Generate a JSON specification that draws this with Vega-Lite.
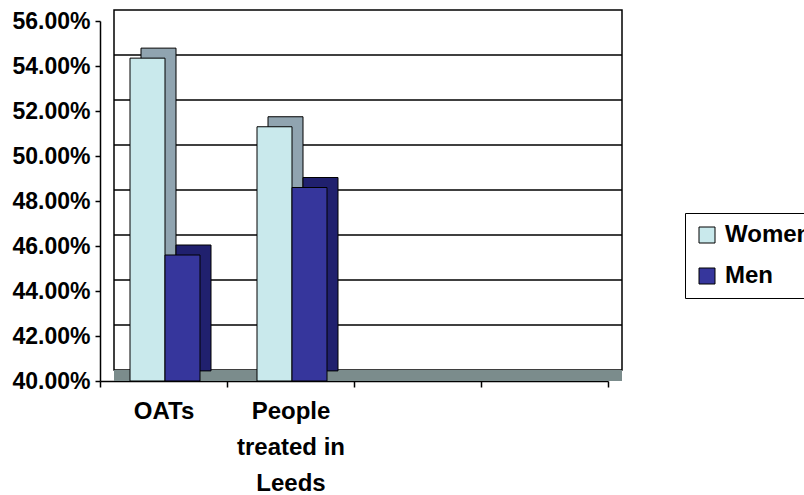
{
  "$schema": "https://vega.github.io/schema/vega-lite/v6.json",
  "width": 508,
  "height": 360,
  "autosize": {"type": "none"},
  "padding": {"left": 114, "top": 10, "right": 182, "bottom": 125},
  "background": "white",
  "config": {"view": {"stroke": "black", "strokeWidth": 1.5}, "font": "Liberation Sans"},
  "datasets": {
    "bars": [
      {"group": "OATs", "sex": "Women", "value": 0.5435},
      {"group": "OATs", "sex": "Men", "value": 0.456},
      {"group": "People treated in Leeds", "sex": "Women", "value": 0.513},
      {"group": "People treated in Leeds", "sex": "Men", "value": 0.486}
    ],
    "grid": [{"v": 0.42}, {"v": 0.44}, {"v": 0.46}, {"v": 0.48}, {"v": 0.50}, {"v": 0.52}, {"v": 0.54}]
  },
  "resolve": {"scale": {"xOffset": "independent"}},
  "layer": [
    {
      "data": {"name": "grid"},
      "mark": {"type": "rule", "color": "black", "strokeWidth": 1.5},
      "encoding": {
        "y": {"field": "v", "type": "quantitative", "title": null, "scale": {"domain": [0.4, 0.56], "zero": false, "nice": false}}
      }
    },
    {
      "data": {"name": "grid"},
      "mark": {"type": "rule", "color": "#7b8c8c", "strokeWidth": 11, "yOffset": 5.5},
      "encoding": {
        "y": {"datum": 0.4, "type": "quantitative"}
      }
    },
    {
      "data": {"name": "bars"},
      "mark": {"type": "bar", "stroke": "black", "strokeWidth": 1, "yOffset": 1},
      "encoding": {
        "x": {"field": "group", "type": "nominal", "title": null, "scale": {"domain": ["OATs", "People treated in Leeds", "c3", "c4"], "paddingInner": 0, "paddingOuter": 0}},
        "xOffset": {"field": "sex", "type": "nominal", "scale": {"domain": ["Women", "Men"], "range": [27, 97], "paddingInner": 0, "paddingOuter": 0}},
        "y": {"field": "value", "type": "quantitative", "title": null},
        "y2": {"datum": 0.3996},
        "color": {"condition": {"test": "datum.sex === 'Women'", "value": "#90a4b0"}, "value": "#20206e"}
      }
    },
    {
      "data": {"name": "bars"},
      "mark": {"type": "bar", "stroke": "black", "strokeWidth": 1, "yOffset": 11},
      "encoding": {
        "x": {
          "field": "group", "type": "nominal", "title": null,
          "scale": {"domain": ["OATs", "People treated in Leeds", "c3", "c4"], "paddingInner": 0, "paddingOuter": 0},
          "axis": {
            "tickBand": "extent", "offset": 25, "translate": -13.5,
            "tickSize": 6, "tickColor": "black", "tickWidth": 1.5,
            "domainColor": "black", "domainWidth": 1.5,
            "labelFont": "Liberation Sans", "labelFontSize": 24, "labelFontWeight": "bold", "labelColor": "black",
            "labelAngle": 0, "labelAlign": "center", "labelPadding": 12, "labelLineHeight": 36, "labelBaseline": "top", "labelOverlap": false,
            "labelExpr": "datum.value == 'People treated in Leeds' ? ['People', 'treated in', 'Leeds'] : (datum.value == 'OATs' ? 'OATs' : '')"
          }
        },
        "xOffset": {"field": "sex", "type": "nominal", "scale": {"domain": ["Women", "Men"], "range": [16, 86], "paddingInner": 0, "paddingOuter": 0}},
        "y": {
          "field": "value", "type": "quantitative", "title": null,
          "axis": {
            "offset": 25, "translate": 11.5, "grid": false,
            "values": [0.40, 0.42, 0.44, 0.46, 0.48, 0.50, 0.52, 0.54, 0.56],
            "format": ".2%",
            "tickSize": 5, "tickColor": "black", "tickWidth": 1.5,
            "domainColor": "black", "domainWidth": 1.5,
            "labelFont": "Liberation Sans", "labelFontSize": 23, "labelFontWeight": "bold", "labelColor": "black",
            "labelPadding": 5
          }
        },
        "y2": {"datum": 0.39511},
        "color": {
          "field": "sex", "type": "nominal",
          "scale": {"domain": ["Women", "Men"], "range": ["#c9e9ec", "#36369c"]},
          "legend": {
            "orient": "none", "legendX": 571, "legendY": 203, "title": null,
            "strokeColor": "black", "fillColor": "white", "padding": 10,
            "symbolType": "square", "symbolSize": 256, "symbolStrokeColor": "black", "symbolStrokeWidth": 1,
            "labelFont": "Liberation Sans", "labelFontSize": 24, "labelFontWeight": "bold", "labelColor": "black",
            "rowPadding": 17, "labelOffset": 6
          }
        }
      }
    }
  ]
}
